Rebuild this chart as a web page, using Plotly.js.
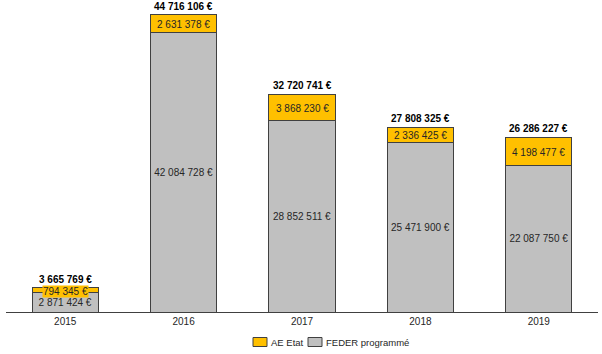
<!DOCTYPE html>
<html><head><meta charset="utf-8">
<script src="https://cdn.plot.ly/plotly-3.0.1.min.js"></script>
<style>html,body{margin:0;padding:0;background:#fff}</style>
</head><body><div id="chart" style="width:602px;height:354px"></div>
<script>
const years = ['2015','2016','2017','2018','2019'];
const feder = [2871424, 42084728, 28852511, 25471900, 22087750];
const aeEtat = [794345, 2631378, 3868230, 2336425, 4198477];
const totals = years.map((_, i) => feder[i] + aeEtat[i]);
const seriesNames = ['AE Etat', 'FEDER programmé'];
const seriesColors = ['#FFC000', '#C0C0C0'];

const FONT = 'Liberation Sans, Arial, sans-serif';
const TXT = '#262626';
const fmt = v => v.toLocaleString('fr-FR').replace(/\s/g, ' ') + ' €';

const traces = [
  {
    type: 'bar', name: seriesNames[1], x: years, y: feder,
    marker: {color: seriesColors[1], line: {color: '#404040', width: 1}},
    texttemplate: '%{y:,.0f} €', textposition: 'inside', insidetextanchor: 'middle',
    constraintext: 'none',
    textfont: {family: FONT, size: 10, color: TXT},
    hoverinfo: 'none', showlegend: false
  },
  {
    type: 'bar', name: seriesNames[0], x: years, y: aeEtat,
    marker: {color: seriesColors[0], line: {color: '#404040', width: 1}},
    hoverinfo: 'none', showlegend: false
  }
];

const annotations = [];
years.forEach((yr, i) => {
  annotations.push({
    x: yr, y: feder[i] + aeEtat[i] / 2, xref: 'x', yref: 'y', yshift: -1,
    text: fmt(aeEtat[i]), showarrow: false, bgcolor: '#FFC000', borderpad: 0,
    font: {family: FONT, size: 10, color: TXT}
  });
  annotations.push({
    x: yr, y: totals[i], xref: 'x', yref: 'y', yanchor: 'bottom', yshift: 2,
    text: '<b>' + fmt(totals[i]) + '</b>', showarrow: false, borderpad: 0,
    font: {family: FONT, size: 10, color: '#000'}
  });
});

// custom legend (paper coords)
const plotH = 302, plotW = 592;
const legY = -30 / plotH;
const legItems = [
  {x0: 253, x1: 267, tx: 270},
  {x0: 308, x1: 322, tx: 325}
];
const shapes = [];
const toP = px => (px - 6) / plotW;
legItems.forEach((it, k) => {
  shapes.push({type: 'rect', xref: 'paper', yref: 'paper',
    x0: toP(it.x0), x1: toP(it.x1), y0: legY - 4.5 / plotH, y1: legY + 4.5 / plotH,
    fillcolor: seriesColors[k], line: {color: '#404040', width: 1}});
  annotations.push({xref: 'paper', yref: 'paper', x: toP(it.tx), y: legY,
    xanchor: 'left', yanchor: 'middle', text: seriesNames[k], showarrow: false,
    borderpad: 0, font: {family: FONT, size: 9.5, color: TXT}});
});

const layout = {
  width: 602, height: 354,
  margin: {l: 6, r: 4, t: 10, b: 42},
  paper_bgcolor: '#fff', plot_bgcolor: '#fff',
  barmode: 'stack', bargap: 0.44,
  separators: ', ',
  font: {family: FONT, size: 10, color: TXT},
  xaxis: {showline: true, linecolor: '#404040', linewidth: 1, ticks: '', showgrid: false,
          tickfont: {family: FONT, size: 10, color: TXT}, fixedrange: true, automargin: false},
  yaxis: {range: [0, 45400000], visible: false, showgrid: false, zeroline: false, fixedrange: true},
  showlegend: false,
  annotations: annotations,
  shapes: shapes
};

Plotly.newPlot('chart', traces, layout, {displayModeBar: false, staticPlot: true});
</script></body></html>
